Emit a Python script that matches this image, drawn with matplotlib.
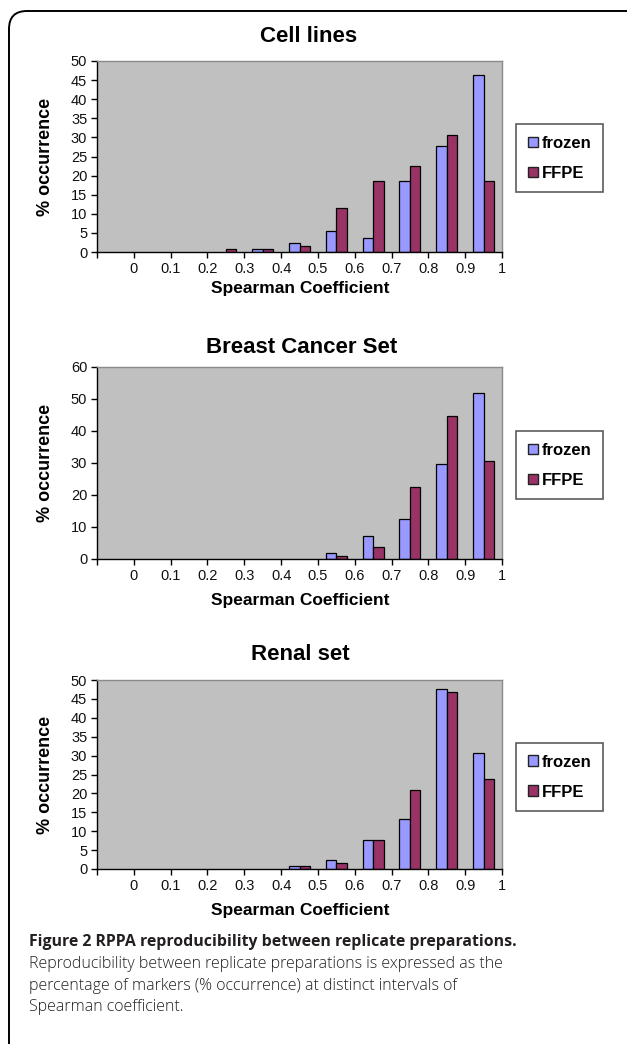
import numpy as np
import matplotlib
matplotlib.use("Agg")
import matplotlib.pyplot as plt
from matplotlib.patches import FancyBboxPatch, Patch

# -----------------------------
# Data (% occurrence per Spearman interval)
# -----------------------------
tick_labels = ["0", "0.1", "0.2", "0.3", "0.4", "0.5", "0.6", "0.7", "0.8", "0.9", "1"]
series_names = ["frozen", "FFPE"]

cell_frozen = [0, 0, 0, 0, 0.9, 2.4, 5.4, 3.6, 18.7, 27.7, 46.3]
cell_ffpe = [0, 0, 0, 0.9, 0.9, 1.7, 11.5, 18.7, 22.4, 30.7, 18.7]

breast_frozen = [0, 0, 0, 0, 0, 0, 1.9, 7.3, 12.6, 29.6, 51.9]
breast_ffpe = [0, 0, 0, 0, 0, 0, 1.0, 3.7, 22.4, 44.8, 30.6]

renal_frozen = [0, 0, 0, 0, 0, 0.8, 2.3, 7.7, 13.2, 47.5, 30.6]
renal_ffpe = [0, 0, 0, 0, 0, 0.8, 1.6, 7.7, 21.0, 46.9, 23.9]

titles = ["Cell lines", "Breast Cancer Set", "Renal set"]
y_max = [50, 60, 50]
y_step = [5, 10, 5]

# -----------------------------
# Layout (pixel positions in a 627 x 1044 image)
# -----------------------------
W, H = 627, 1044
ax_left, ax_right = 97, 502
ax_tops = [61, 367, 680]
ax_bottoms = [252, 559, 869]
title_x = [309, 302, 300]
title_y = [36, 348, 655]
xlabel_y = [288, 601, 911]
legend_tops = [124, 431, 743]

FROZEN = "#9999FF"
FFPE = "#993366"
PLOT_BG = "#C0C0C0"

plt.rcParams["font.family"] = ["Liberation Sans", "DejaVu Sans"]

fig = plt.figure(figsize=(W / 100, H / 100), dpi=100, facecolor="white")

# frame with rounded top-left corner
bg = fig.add_axes([0, 0, 1, 1])
bg.set_xlim(0, W)
bg.set_ylim(H, 0)
bg.axis("off")
bg.add_patch(FancyBboxPatch((9, 11), W + 60, H + 60,
                            boxstyle="round,pad=0,rounding_size=18",
                            facecolor="none", edgecolor="black", linewidth=1.4))


def fx(px):
    return px / W


def fy(py):
    return 1 - py / H


panels = [(cell_frozen, cell_ffpe), (breast_frozen, breast_ffpe), (renal_frozen, renal_ffpe)]
x = np.arange(len(tick_labels)) + 0.5
bw = 1 / 3.5

handles = [Patch(facecolor=FROZEN, edgecolor="#222222", linewidth=1),
           Patch(facecolor=FFPE, edgecolor="#222222", linewidth=1)]

for i, (fro, ffpe) in enumerate(panels):
    ax = fig.add_axes([fx(ax_left), fy(ax_bottoms[i]),
                       fx(ax_right - ax_left), (ax_bottoms[i] - ax_tops[i]) / H])
    ax.set_facecolor(PLOT_BG)
    # Excel does not outline empty bins
    lw_fro = [0.9 if v > 0 else 0 for v in fro]
    lw_ffpe = [0.9 if v > 0 else 0 for v in ffpe]
    ax.bar(x - bw / 2, fro, bw, color=FROZEN, edgecolor="black", linewidth=lw_fro)
    ax.bar(x + bw / 2, ffpe, bw, color=FFPE, edgecolor="black", linewidth=lw_ffpe)

    ax.set_xlim(0, len(tick_labels))
    ax.set_ylim(0, y_max[i])
    ax.set_xticks(np.arange(len(tick_labels) + 1))
    ax.set_xticklabels([""] + tick_labels)
    ax.set_yticks(np.arange(0, y_max[i] + 1, y_step[i]))
    ax.tick_params(direction="out", length=4, width=1, labelsize=10.5, pad=3,
                   colors="black", labelcolor="#111111")
    for s in ["left", "bottom"]:
        ax.spines[s].set_color("black")
        ax.spines[s].set_linewidth(1)
    for s in ["top", "right"]:
        ax.spines[s].set_color("#8a8a8a")
        ax.spines[s].set_linewidth(1)

    fig.text(fx(title_x[i]), fy(title_y[i]), titles[i], ha="center", va="center",
             fontsize=16, fontweight="bold")
    fig.text(fx(300), fy(xlabel_y[i]), "Spearman Coefficient", ha="center", va="center",
             fontsize=12.5, fontweight="bold")
    fig.text(fx(46), fy((ax_tops[i] + ax_bottoms[i]) / 2), "% occurrence", ha="center",
             va="center", rotation=90, fontsize=13, fontweight="bold")

    leg = ax.legend(handles, series_names, loc="upper left",
                    bbox_to_anchor=(fx(516), fy(legend_tops[i])),
                    bbox_transform=fig.transFigure, fancybox=False, frameon=True,
                    edgecolor="#333333", handlelength=0.6, handleheight=0.6,
                    handletextpad=0.25, labelspacing=0.9, borderpad=0.7,
                    borderaxespad=0, prop={"weight": "bold", "size": 12})
    leg.get_frame().set_linewidth(1.2)

# -----------------------------
# Caption
# -----------------------------
cap_x = fx(29)
fig.text(cap_x, fy(942), "Figure 2 RPPA reproducibility between replicate preparations.",
         ha="left", va="center", fontsize=11.4, fontweight="bold", family="Open Sans",
         color="#231f20")
cap_lines = [
    "Reproducibility between replicate preparations is expressed as the",
    "percentage of markers (% occurrence) at distinct intervals of",
    "Spearman coefficient.",
]
for k, line in enumerate(cap_lines):
    fig.text(cap_x, fy(964 + 21.5 * k), line, ha="left", va="center", fontsize=11.5,
             family="Open Sans", color="#231f20", fontweight="light")

fig.savefig("out.png", dpi=100, facecolor="white")
